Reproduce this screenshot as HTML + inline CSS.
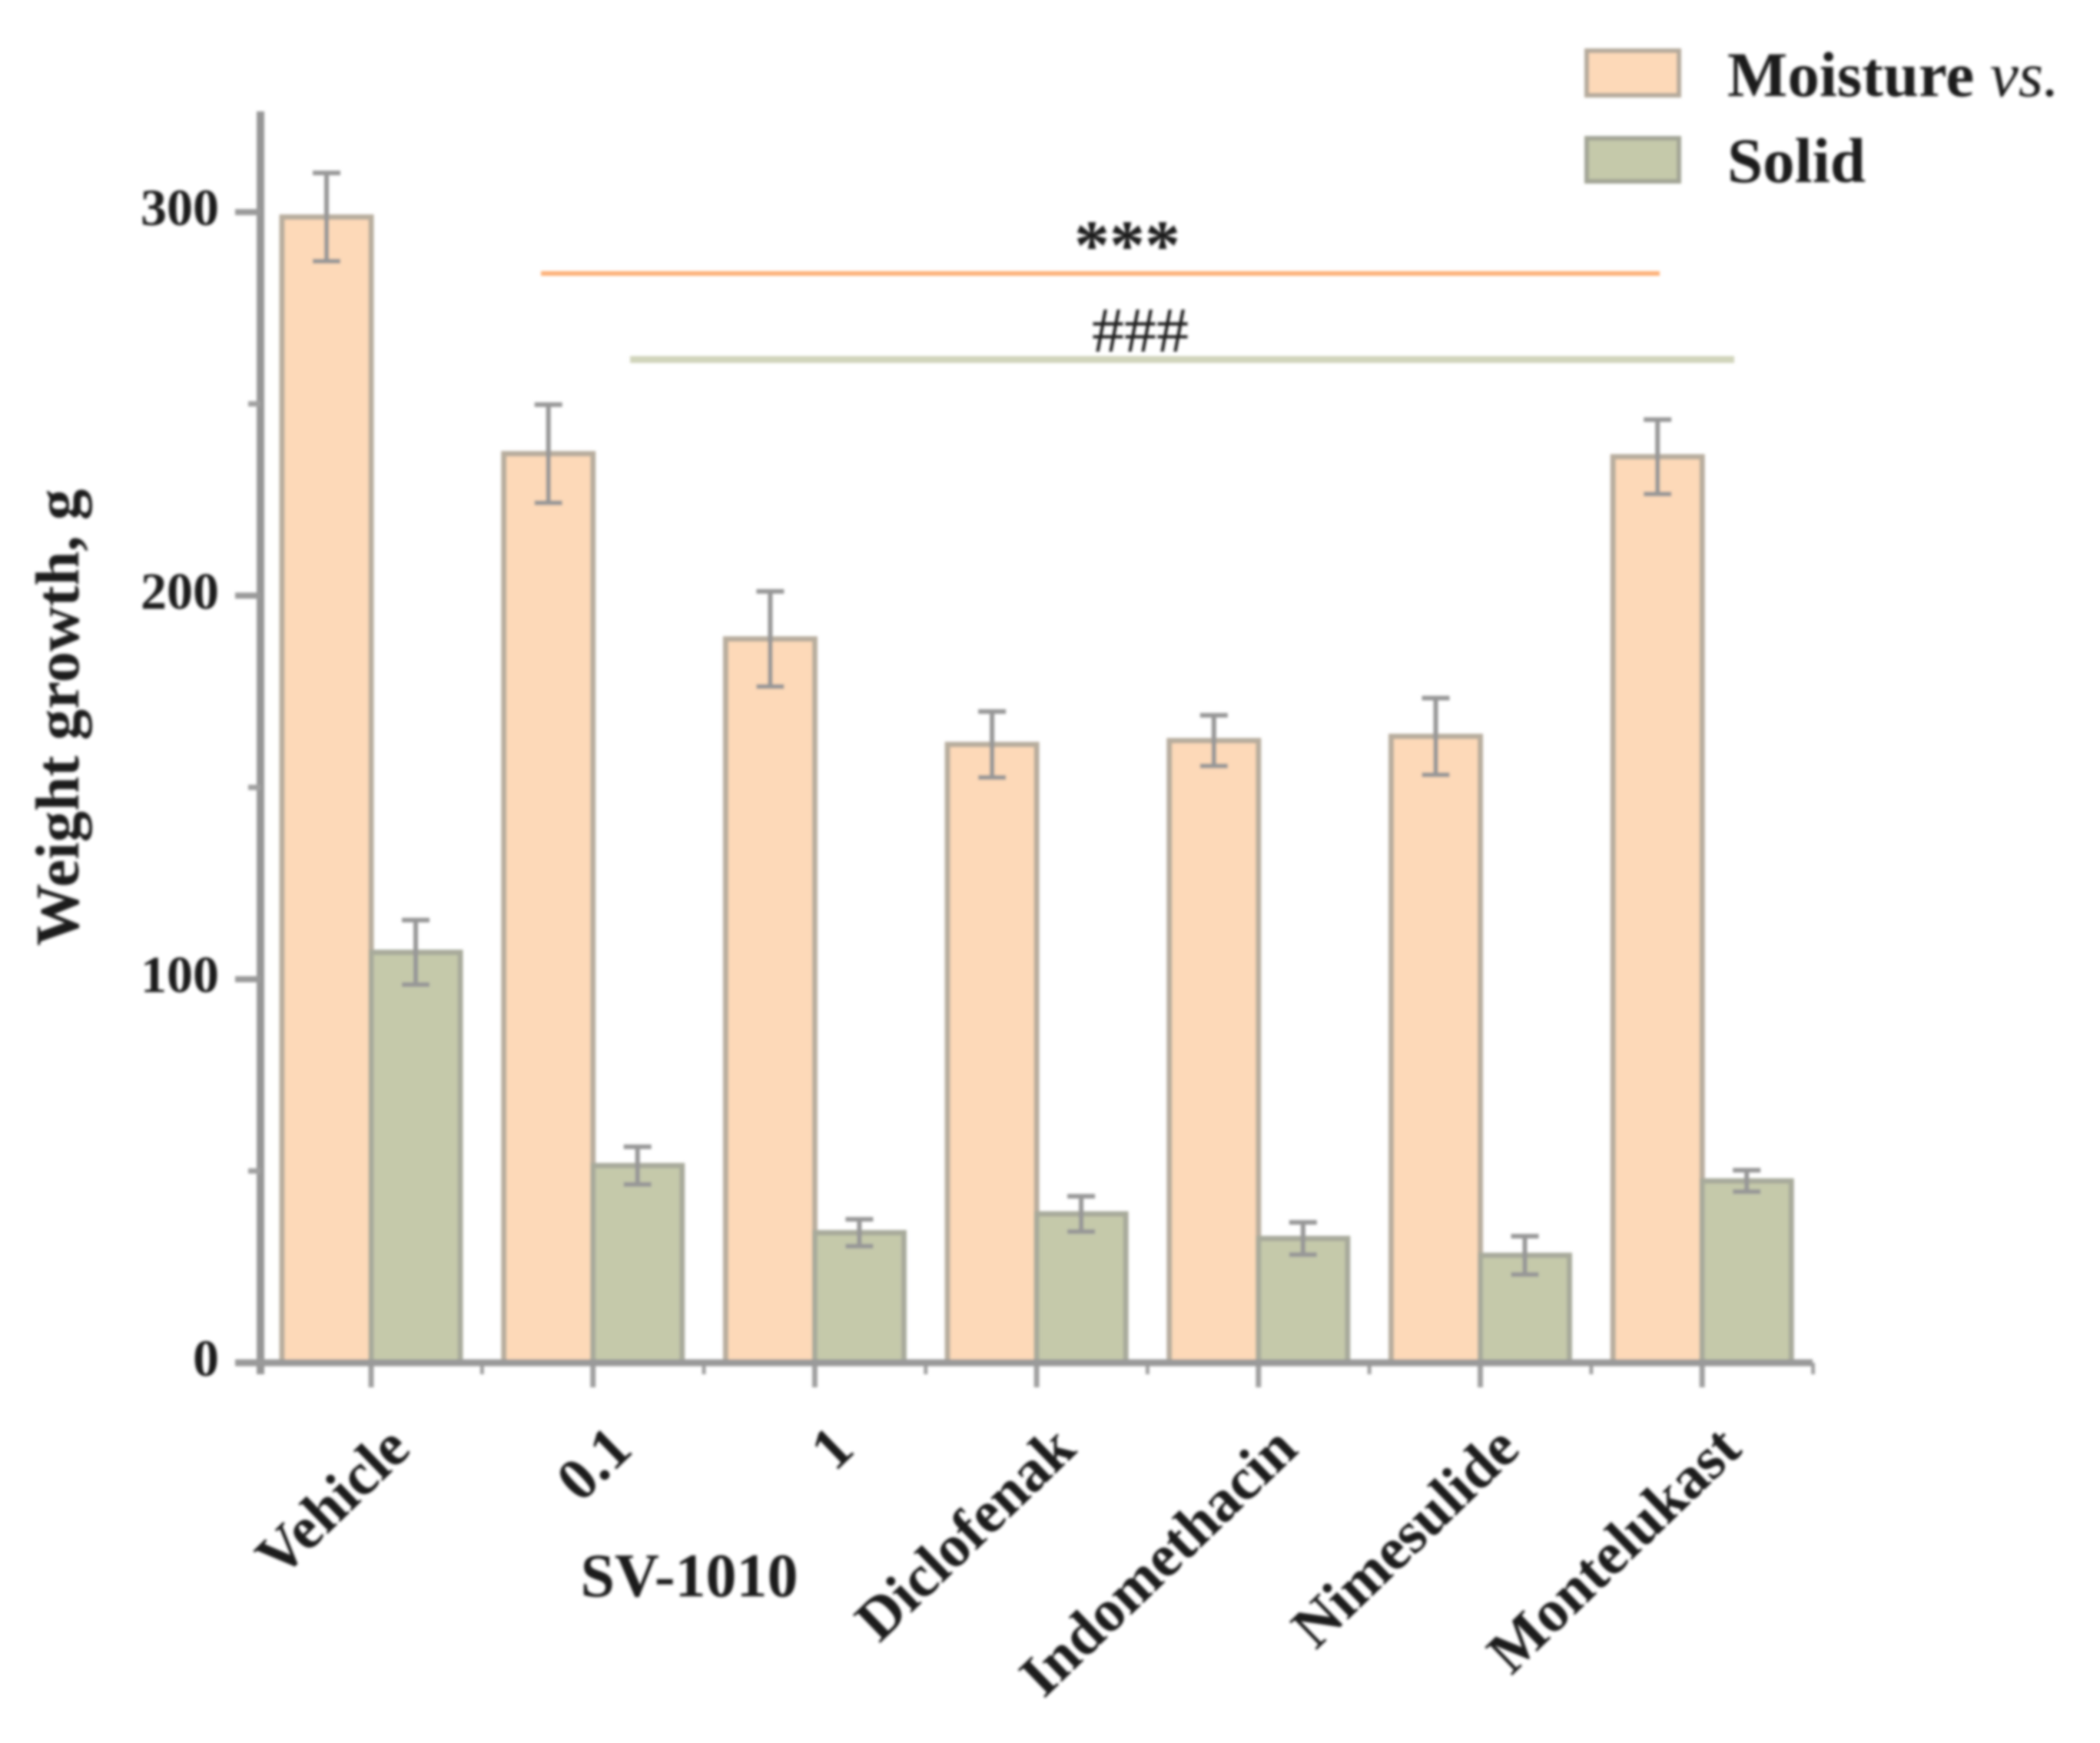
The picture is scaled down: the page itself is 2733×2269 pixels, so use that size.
<!DOCTYPE html>
<html lang="en">
<head>
<meta charset="utf-8">
<title>Weight growth chart</title>
<style>
html,body{margin:0;padding:0;background:#fff;}
svg{display:block;}
text{font-family:"Liberation Serif",serif;font-weight:bold;fill:#1c1c1c;}
</style>
</head>
<body>
<svg id="chart" xmlns="http://www.w3.org/2000/svg" width="2733" height="2269" viewBox="0 0 2733 2269">
  <defs>
    <filter id="soft" x="-5%" y="-5%" width="110%" height="110%"><feGaussianBlur stdDeviation="1.8"/></filter>
  </defs>
  <rect x="0" y="0" width="2733" height="2269" fill="#ffffff"/>
  <g id="root" filter="url(#soft)">
    <g id="bars"></g>
    <g id="axes"></g>
    <g id="errors"></g>
    <g id="labels"></g>
    <line x1="704" x2="2160" y1="356" y2="356" stroke="#fdb077" stroke-width="6"/>
    <line x1="820" x2="2257" y1="468" y2="468" stroke="#d0d4bb" stroke-width="9"/>
    <text x="1467" y="350" font-size="92" text-anchor="middle">***</text>
    <text x="1484" y="458" font-size="84" text-anchor="middle" style="font-weight:normal">###</text>
    <text transform="translate(102 934) rotate(-90)" font-size="81" text-anchor="middle">Weight growth, g</text>
    <text x="897" y="2078" font-size="80" text-anchor="middle">SV-1010</text>
    <g>
      <rect x="2065" y="66" width="120" height="58" fill="#fdd9b8" stroke="#b5aa9c" stroke-width="6"/>
      <text x="2248" y="125" font-size="83">Moisture <tspan font-style="italic" style="font-weight:normal">vs.</tspan></text>
      <rect x="2065" y="180" width="120" height="56" fill="#c5c9aa" stroke="#a3a596" stroke-width="6"/>
      <text x="2248" y="237" font-size="83">Solid</text>
    </g>
  </g>
</svg>
<script>
const categories = ["Vehicle", "0.1", "1", "Diclofenak", "Indomethacin", "Nimesulide", "Montelukast"];
const moisture = [298.7, 237, 188.7, 161.2, 162.2, 163.3, 236.2];
const moistureErr = [11.5, 12.8, 12.4, 8.6, 6.6, 10, 9.7];
const solid = [107, 51.4, 33.9, 38.8, 32.4, 28, 47.4];
const solidErr = [8.4, 4.9, 3.5, 4.6, 4.2, 5, 2.8];
const yTicks = [0, 100, 200, 300];
const yMinorTicks = [50, 150, 250];

const NS = "http://www.w3.org/2000/svg";
const yZero = 1774, pxPerUnit = 4.993;
const firstGroup = 483, groupStep = 288.7, barW = 116;
const axisX = 339, axisRight = 2359;
function yScale(v) { return yZero - v * pxPerUnit; }
function xScale(i) { return firstGroup + i * groupStep; }
function make(tag, parent, props) {
  const el = document.createElementNS(NS, tag);
  for (const k in props) el.setAttribute(k, props[k]);
  parent.appendChild(el);
  return el;
}
const barsG = document.getElementById("bars");
const axesG = document.getElementById("axes");
const errG = document.getElementById("errors");
const labG = document.getElementById("labels");

function drawBar(v, x, fill, stroke, name) {
  const el = make("rect", barsG, { x: x, y: yScale(v), width: barW, height: yZero - yScale(v), fill: fill, stroke: stroke, "stroke-width": 7 });
  
  
}
function drawErr(v, e, cx, name) {
  const g = make("g", errG, { stroke: "#979797", "stroke-width": 6 });
  
  
  const top = yScale(v + e), bot = yScale(v - e);
  make("line", g, { x1: cx, x2: cx, y1: top, y2: bot });
  make("line", g, { x1: cx - 18, x2: cx + 18, y1: top, y2: top });
  make("line", g, { x1: cx - 18, x2: cx + 18, y1: bot, y2: bot });
}
categories.forEach(function (c, i) {
  const x = xScale(i);
  drawBar(moisture[i], x - barW, "#fdd9b8", "#b8ad9e", "bar-moisture-" + i);
  drawBar(solid[i], x, "#c5c9aa", "#a8aa9b", "bar-solid-" + i);
  drawErr(moisture[i], moistureErr[i], x - barW / 2, "error-moisture-" + i);
  drawErr(solid[i], solidErr[i], x + barW / 2, "error-solid-" + i);
  const tick = make("line", axesG, { x1: x, x2: x, y1: yZero, y2: 1806, stroke: "#a0a0a0", "stroke-width": 7 });
  
  
  const minorX = x + groupStep / 2;
  const minor = make("line", axesG, { x1: minorX, x2: minorX, y1: yZero, y2: 1789, stroke: "#a0a0a0", "stroke-width": 5 });
  
  
  const t = make("text", labG, { "font-size": 78, "text-anchor": "end", transform: "translate(" + (x + 54) + " 1890) rotate(-44)" });
  t.textContent = c;
  
  
});
const yAxis = make("line", axesG, { x1: axisX, x2: axisX, y1: 145, y2: 1789, stroke: "#969696", "stroke-width": 10 });


const xAxis = make("line", axesG, { x1: 306, x2: axisRight, y1: yZero, y2: yZero, stroke: "#9a9a9a", "stroke-width": 9 });


yTicks.forEach(function (v) {
  const y = yScale(v);
  const tick = make("line", axesG, { x1: 306, x2: axisX, y1: y, y2: y, stroke: "#9a9a9a", "stroke-width": 8 });
  
  
  const t = make("text", labG, { x: 285, y: y + 17, "font-size": 68, "text-anchor": "end" });
  t.textContent = String(v);
  
  
});
yMinorTicks.forEach(function (v) {
  const y = yScale(v);
  const tick = make("line", axesG, { x1: 323, x2: axisX, y1: y, y2: y, stroke: "#a0a0a0", "stroke-width": 7 });
  
  
});
</script>
</body>
</html>
